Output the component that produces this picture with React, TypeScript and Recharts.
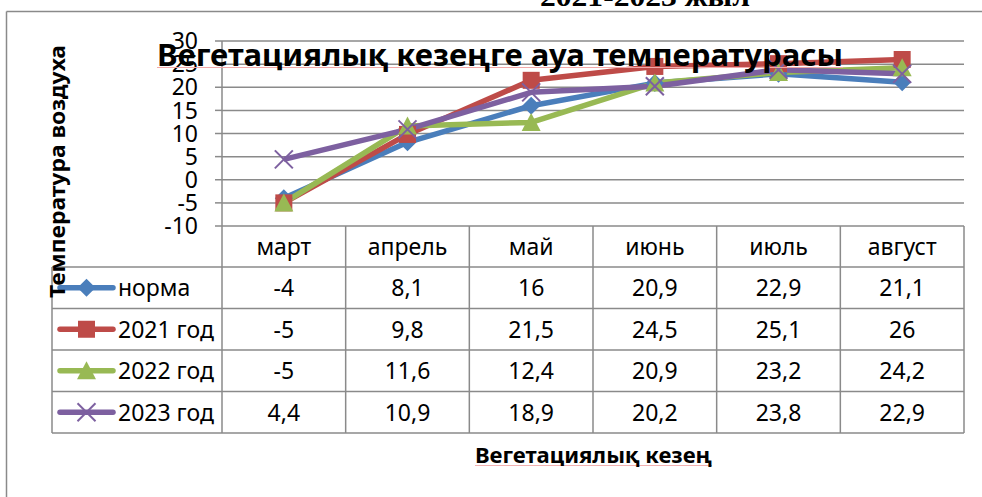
import React from 'react';
import { LineChart, Line, XAxis, YAxis, CartesianGrid } from 'recharts';

const months = ['март', 'апрель', 'май', 'июнь', 'июль', 'август'];
const norma = [-4, 8.1, 16, 20.9, 22.9, 21.1];
const y2021 = [-5, 9.8, 21.5, 24.5, 25.1, 26];
const y2022 = [-5, 11.6, 12.4, 20.9, 23.2, 24.2];
const y2023 = [4.4, 10.9, 18.9, 20.2, 23.8, 22.9];
const seriesNames = ['норма', '2021 год', '2022 год', '2023 год'];
const seriesKeys = ['norma', 'y2021', 'y2022', 'y2023'];
const seriesValues = [norma, y2021, y2022, y2023];
const yTicks = [-10, -5, 0, 5, 10, 15, 20, 25, 30];

const chartTitle = 'Вегетациялық кезеңге ауа температурасы';
const yTitle = 'Температура воздуха';
const xTitle = 'Вегетациялық кезең';
const topTitle = '2021-2023 жыл';

const data = months.map((m, i) => {
  const row: Record<string, string | number> = { month: m };
  seriesKeys.forEach((k, s) => {
    row[k] = seriesValues[s][i];
  });
  return row;
});

const W = 982;
const H = 497;
const PLOT_LEFT = 222;
const PLOT_RIGHT = 964;
const PLOT_TOP = 41;
const PLOT_BOTTOM = 226;
const BW = (PLOT_RIGHT - PLOT_LEFT) / months.length;
const ROW_H = 41.5;
const HEADER_BOTTOM = 267;
const TABLE_LEFT = 52;
const GRID = '#8a8a8a';
const FONT = "'Noto Sans', 'DejaVu Sans', sans-serif";
const colors = ['#4A7EBB', '#BE4B48', '#98B954', '#7D60A0'];

type Shape = 'diamond' | 'square' | 'triangle' | 'x';
const shapes: Shape[] = ['diamond', 'square', 'triangle', 'x'];

function Marker({ shape, cx, cy, color }: { shape: Shape; cx: number; cy: number; color: string }) {
  if (shape === 'diamond') {
    const r = 9;
    return <path d={`M${cx},${cy - r}L${cx + r},${cy}L${cx},${cy + r}L${cx - r},${cy}Z`} fill={color} />;
  }
  if (shape === 'square') {
    const s = 17;
    return <rect x={cx - s / 2} y={cy - s / 2} width={s} height={s} fill={color} />;
  }
  if (shape === 'triangle') {
    const h = 17;
    const w = 19;
    return <path d={`M${cx},${cy - h / 2 - 1}L${cx + w / 2},${cy + h / 2}L${cx - w / 2},${cy + h / 2}Z`} fill={color} />;
  }
  const a = 9;
  return (
    <g stroke={color} strokeWidth={2}>
      <line x1={cx - a} y1={cy - a} x2={cx + a} y2={cy + a} />
      <line x1={cx - a} y1={cy + a} x2={cx + a} y2={cy - a} />
    </g>
  );
}

const makeDot = (s: number) => (props: any) => {
  const { cx, cy, index } = props;
  if (cx == null || cy == null) return <g key={`d${s}-${index}`} />;
  return (
    <g key={`d${s}-${index}`}>
      <Marker shape={shapes[s]} cx={cx} cy={cy} color={colors[s]} />
    </g>
  );
};

const fmt = (v: number) => String(v).replace('.', ',');

function Overlay() {
  const colX = (i: number) => PLOT_LEFT + i * BW;
  const rowY = (j: number) => HEADER_BOTTOM + j * ROW_H;
  const tableBottom = rowY(seriesNames.length);
  return (
    <svg
      width={W}
      height={H}
      style={{ position: 'absolute', left: 0, top: 0, pointerEvents: 'none' }}
    >
      {/* frame */}
      <line x1={6.5} y1={11.5} x2={W} y2={11.5} stroke={GRID} strokeWidth={1.5} />
      <line x1={6.5} y1={11.5} x2={6.5} y2={H} stroke={GRID} strokeWidth={1.5} />
      {/* top cut-off title */}
      <text
        x={645}
        y={6}
        textAnchor="middle"
        fontFamily="'Liberation Serif', 'DejaVu Serif', serif"
        fontWeight="bold"
        fontSize={28}
        textLength={210}
        lengthAdjust="spacingAndGlyphs"
        fill="#000"
      >
        {topTitle}
      </text>
      {/* table grid */}
      {months.map((_, i) => (
        <line key={`v${i}`} x1={colX(i)} y1={PLOT_BOTTOM} x2={colX(i)} y2={tableBottom} stroke={GRID} strokeWidth={1.5} />
      ))}
      <line x1={colX(months.length)} y1={PLOT_BOTTOM} x2={colX(months.length)} y2={tableBottom} stroke={GRID} strokeWidth={1.5} />
      <line x1={TABLE_LEFT} y1={HEADER_BOTTOM} x2={TABLE_LEFT} y2={tableBottom} stroke={GRID} strokeWidth={1.5} />
      {seriesNames.map((_, j) => (
        <line key={`h${j}`} x1={TABLE_LEFT} y1={rowY(j)} x2={PLOT_RIGHT} y2={rowY(j)} stroke={GRID} strokeWidth={1.5} />
      ))}
      <line x1={TABLE_LEFT} y1={tableBottom} x2={PLOT_RIGHT} y2={tableBottom} stroke={GRID} strokeWidth={1.5} />
      {/* header */}
      {months.map((m, i) => (
        <text key={`m${i}`} x={colX(i) + BW / 2} y={(PLOT_BOTTOM + HEADER_BOTTOM) / 2} dy="0.36em" textAnchor="middle" fontFamily={FONT} fontSize={23} fill="#000">
          {m}
        </text>
      ))}
      {/* rows */}
      {seriesNames.map((name, j) => {
        const cy = rowY(j) + ROW_H / 2;
        return (
          <g key={`r${j}`}>
            <line x1={60} y1={cy} x2={113} y2={cy} stroke={colors[j]} strokeWidth={5.5} strokeLinecap="round" />
            <Marker shape={shapes[j]} cx={86.5} cy={cy} color={colors[j]} />
            <text x={118} y={cy} dy="0.36em" fontFamily={FONT} fontSize={23} fill="#000">
              {name}
            </text>
            {seriesValues[j].map((v, i) => (
              <text key={`c${i}`} x={colX(i) + BW / 2} y={cy} dy="0.36em" textAnchor="middle" fontFamily={FONT} fontSize={23} fill="#000">
                {fmt(v)}
              </text>
            ))}
          </g>
        );
      })}
      {/* y axis title */}
      <g transform="translate(65,171.5) rotate(-90)">
        <text x={0} y={0} textAnchor="middle" fontFamily={FONT} fontWeight="bold" fontSize={21} textLength={253} lengthAdjust="spacingAndGlyphs" fill="#000">
          {yTitle}
        </text>
      </g>
      {/* chart title */}
      <line x1={157} y1={67.5} x2={843} y2={67.5} stroke="#f2a8a8" strokeWidth={1} />
      <text x={500} y={66} textAnchor="middle" fontFamily={FONT} fontWeight="bold" fontSize={31} textLength={686} lengthAdjust="spacingAndGlyphs" fill="#000">
        {chartTitle}
      </text>
      {/* x axis title */}
      <line x1={475} y1={465.5} x2={712} y2={465.5} stroke="#f2b0b0" strokeWidth={1} />
      <text x={593.5} y={463} textAnchor="middle" fontFamily={FONT} fontWeight="bold" fontSize={22} textLength={237} lengthAdjust="spacingAndGlyphs" fill="#000">
        {xTitle}
      </text>
    </svg>
  );
}

export default function App() {
  return (
    <div style={{ position: 'absolute', left: 0, top: 0, width: W, height: H, background: '#fff' }}>
      <LineChart
        width={W}
        height={H}
        data={data}
        margin={{ top: PLOT_TOP, right: W - PLOT_RIGHT, bottom: H - PLOT_BOTTOM, left: PLOT_LEFT - 60 }}
      >
        <CartesianGrid vertical={false} stroke={GRID} strokeWidth={1.5} />
        <XAxis dataKey="month" hide padding={{ left: BW / 2, right: BW / 2 }} />
        <YAxis
          domain={[-10, 30]}
          ticks={yTicks}
          interval={0}
          width={60}
          tickSize={7}
          tickMargin={17}
          axisLine={{ stroke: GRID, strokeWidth: 1.5 }}
          tickLine={{ stroke: GRID, strokeWidth: 1.5 }}
          tick={{ fill: '#000', fontSize: 23, fontFamily: FONT }}
        />
        {seriesKeys.map((k, s) => (
          <Line
            key={k}
            type="linear"
            dataKey={k}
            name={seriesNames[s]}
            stroke={colors[s]}
            strokeWidth={5.5}
            strokeLinejoin="round"
            dot={makeDot(s)}
            activeDot={false}
            isAnimationActive={false}
          />
        ))}
      </LineChart>
      <Overlay />
    </div>
  );
}
